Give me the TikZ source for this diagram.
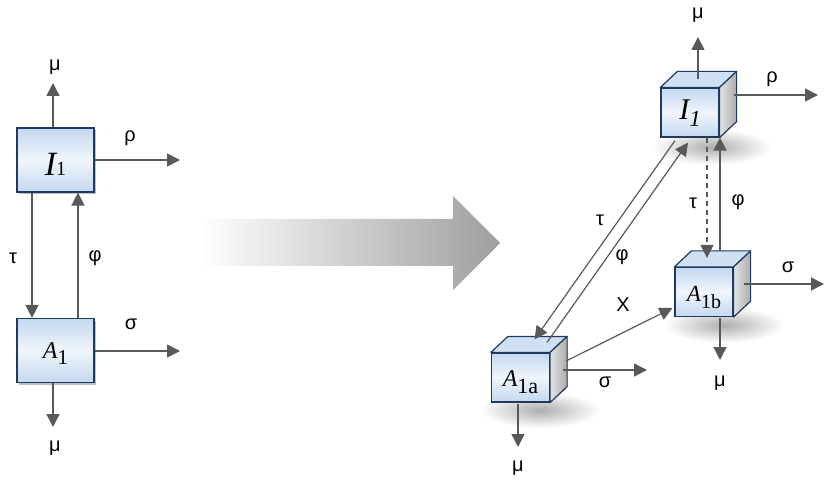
\documentclass[tikz,border=0pt]{standalone}
\usepackage{fontspec}
\setmainfont{Liberation Sans}
\newfontfamily\tnr{Liberation Serif}
\usetikzlibrary{arrows.meta,calc,shadows}
\definecolor{boxblue}{HTML}{C3D8F0}
\definecolor{topblue}{HTML}{CFE0F3}
\definecolor{edgeblue}{HTML}{1F3A5F}
\definecolor{arrgray}{HTML}{595959}
\newcommand\fs[1]{\fontsize{#1}{#1}\selectfont}
\newcommand\cubefaces[1]{%
  \filldraw[draw=edgeblue, line width=1.2pt, fill=topblue, line join=round]
    (#1.north west) -- ($(#1.north west)+(17,-16)$) -- ($(#1.north east)+(17,-16)$) -- (#1.north east) -- cycle;
  \filldraw[draw=edgeblue, line width=1.2pt, left color=gray!22, right color=gray!65, line join=round]
    (#1.north east) -- ($(#1.north east)+(17,-16)$) -- ($(#1.south east)+(17,-16)$) -- (#1.south east) -- cycle;
}
\begin{document}
\begin{tikzpicture}[x=1pt,y=-1pt,
  arr/.style={draw=arrgray, line width=1.5pt, -{Triangle[length=13pt,width=13pt]}},
  lbl/.style={font=\fs{20}, text=black, inner sep=0pt},
  boxbase/.style={draw=edgeblue, line width=1.2pt, top color=boxblue, bottom color=boxblue, middle color=white!75!boxblue, inner sep=0pt, font=\tnr},
  flatbox/.style={boxbase, minimum width=77pt, minimum height=64pt,
    drop shadow={shadow xshift=2pt, shadow yshift=-2pt, opacity=0.25, fill=black}},
  cubefront/.style={boxbase, minimum width=58pt, minimum height=49pt},
  shadowblob/.style={inner color=black!32, outer color=white}
]
\useasboundingbox (0,0) rectangle (825,481);
% big gradient arrow
\shade[left color=white, right color=black!38, draw=none]
  (200,219) -- (453,219) -- (453,196) -- (500,243) -- (453,290) -- (453,266) -- (200,266) -- cycle;
% cube shadows
\shade[shadowblob] (712,147) ellipse (60 and 18);
\shade[shadowblob] (724,325) ellipse (60 and 18);
\shade[shadowblob] (540,410) ellipse (60 and 18);
% left boxes
\node[flatbox, text height=34pt, text depth=2pt] (I1L) at (55.5,160)
  {{\fs{34}\itshape I}{\fs{20}1}};
\node[flatbox, text height=20pt, text depth=3.6pt] (A1L) at (55.5,350.5)
  {{\fs{24}\itshape A}\raisebox{-6pt}{\fs{21}1}};
% right cubes
\node[cubefront, text height=20pt, text depth=5pt] (I1R) at (690,112.5)
  {{\fs{30}\itshape I}\raisebox{-7pt}{\fs{23}\itshape 1}};
\cubefaces{I1R}
\node[cubefront, text height=22pt, text depth=2.6pt] (A1b) at (704,292)
  {{\fs{23}\itshape A}\raisebox{-6.5pt}{\fs{20}1b}};
\cubefaces{A1b}
\node[cubefront, text height=20pt, text depth=3pt] (A1a) at (520.5,377.5)
  {{\fs{24}\itshape A}\raisebox{-7pt}{\fs{22}1a}};
\cubefaces{A1a}
% free ends
\coordinate (muLt) at (53,83);
\coordinate (rhoL) at (180,160);
\coordinate (sigL) at (180,351);
\coordinate (muLb) at (53,427);
\coordinate (muRt) at (698,37);
\coordinate (rhoR) at (818,95);
\coordinate (sigA) at (647,370);
\coordinate (sigB) at (824,284);
\coordinate (muB) at (720,360);
\coordinate (muA) at (518,447);
% left connectors
\draw[arr] (I1L.north -| muLt) -- (muLt);
\draw[arr] (I1L.east |- rhoL) -- (rhoL);
\draw[arr] ([xshift=-23.5pt]I1L.south) -- ([xshift=-23.5pt]A1L.north);
\draw[arr] ([xshift=22.5pt]A1L.north) -- ([xshift=22.5pt]I1L.south);
\draw[arr] (A1L.east |- sigL) -- (sigL);
\draw[arr] (A1L.south -| muLb) -- (muLb);
% right connectors
\draw[arr] ($(I1R.north)+(8,-8)$) -- (muRt);
\draw[arr] ($(I1R.east |- rhoR)+(14,0)$) -- (rhoR);
\draw[arr, dash pattern=on 5pt off 4pt, line width=1.2pt] ([xshift=17pt]I1R.south) -- ($(A1b.north)+(3,-9)$);
\draw[arr] ($(A1b.north)+(16,-16)$) -- ([xshift=30pt]I1R.south);
\draw[arr, line width=1.2pt] ($(I1R.south)+(-15,3)$) -- ($(A1a.north)+(14,-13)$);
\draw[arr, line width=1.2pt] ($(A1a.north)+(26.5,-10)$) -- ($(I1R.south)+(-2,5)$);
\draw[arr, line width=1.2pt] ($(A1a.east)+(16,-16.5)$) -- ($(A1b.west)+(-2,16)$);
\draw[arr] ($(A1a.east)+(13,-7.5)$) -- (sigA);
\draw[arr] ($(A1b.east)+(10,-8)$) -- (sigB);
\draw[arr] ($(A1b.south)+(16,1)$) -- (muB);
\draw[arr] ($(A1a.south)+(-2.5,1.5)$) -- (muA);
% labels
\node[lbl] (l1) at (55,67) {μ};
\node[lbl] (l2) at (130,138) {ρ};
\node[lbl] (l3) at (13,258) {τ};
\node[lbl] (l4) at (95,258) {φ};
\node[lbl] (l5) at (131,324) {σ};
\node[lbl] (l6) at (55,448) {μ};
\node[lbl] (r1) at (698,15) {μ};
\node[lbl] (r2) at (772,79) {ρ};
\node[lbl] (r3) at (693,203) {τ};
\node[lbl] (r4) at (738,202) {φ};
\node[lbl] (r5) at (600,220) {τ};
\node[lbl] (r6) at (622,257) {φ};
\node[lbl] (r7) at (623,305) {X};
\node[lbl] (r8) at (605,382) {σ};
\node[lbl] (r9) at (788,267) {σ};
\node[lbl] (r10) at (720,383) {μ};
\node[lbl] (r11) at (518,468) {μ};
\end{tikzpicture}
\end{document}
